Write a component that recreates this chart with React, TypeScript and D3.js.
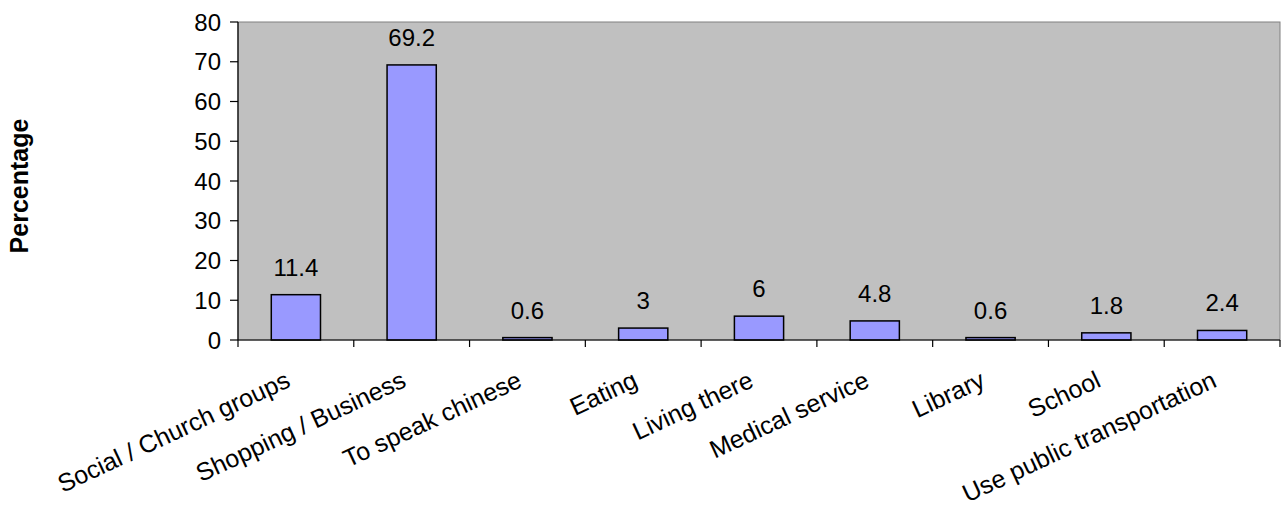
import React from "react";
import * as d3 from "d3";

const categories = [
  "Social / Church groups",
  "Shopping / Business",
  "To speak chinese",
  "Eating",
  "Living there",
  "Medical service",
  "Library",
  "School",
  "Use public transportation",
];
const values = [11.4, 69.2, 0.6, 3, 6, 4.8, 0.6, 1.8, 2.4];
const valueLabels = ["11.4", "69.2", "0.6", "3", "6", "4.8", "0.6", "1.8", "2.4"];
const yTicks = [0, 10, 20, 30, 40, 50, 60, 70, 80];
const yTitle = "Percentage";

const W = 1281;
const H = 508;
const plot = { left: 238, right: 1280, top: 22, bottom: 340 };
const FONT = "'Liberation Sans', Arial, sans-serif";

export default function App() {
  const x = d3
    .scaleBand<string>()
    .domain(categories)
    .range([plot.left, plot.right])
    .paddingInner(0)
    .paddingOuter(0);
  const y = d3.scaleLinear().domain([0, 80]).range([plot.bottom, plot.top]);
  const bw = x.bandwidth() * 0.425;
  const boundaries = categories.map((c) => x(c) as number).concat([plot.right]);

  return (
    <svg
      width={W}
      height={H}
      style={{ position: "fixed", left: 0, top: 0, background: "#fff" }}
      fontFamily={FONT}
    >
      <rect
        x={plot.left}
        y={plot.top}
        width={plot.right - plot.left}
        height={plot.bottom - plot.top}
        fill="#C0C0C0"
        stroke="#808080"
        strokeWidth={1}
      />
      {categories.map((c, i) => {
        const cx = (x(c) as number) + x.bandwidth() / 2;
        const top = y(values[i]);
        return (
          <g key={c}>
            <rect
              x={cx - bw / 2}
              y={top}
              width={bw}
              height={plot.bottom - top}
              fill="#9999FF"
              stroke="#000"
              strokeWidth={1.5}
            />
            <text
              x={cx}
              y={top - 19}
              textAnchor="middle"
              fontSize={24}
              fill="#000"
            >
              {valueLabels[i]}
            </text>
            <text
              transform={`translate(${cx - 4},${386}) rotate(-25)`}
              textAnchor="end"
              fontSize={25}
              fill="#000"
            >
              {c}
            </text>
          </g>
        );
      })}
      {/* y axis */}
      <line x1={plot.left} x2={plot.left} y1={plot.top} y2={plot.bottom} stroke="#000" strokeWidth={1.2} />
      {yTicks.map((t) => (
        <g key={t}>
          <line x1={plot.left - 8} x2={plot.left} y1={y(t)} y2={y(t)} stroke="#000" strokeWidth={1.2} />
          <text x={221} y={y(t)} dy="0.36em" textAnchor="end" fontSize={24} fill="#000">
            {t}
          </text>
        </g>
      ))}
      {/* x axis */}
      <line x1={plot.left} x2={plot.right} y1={plot.bottom} y2={plot.bottom} stroke="#000" strokeWidth={1.2} />
      {boundaries.map((bx, i) => (
        <line key={i} x1={bx} x2={bx} y1={plot.bottom} y2={plot.bottom + 7} stroke="#000" strokeWidth={1.2} />
      ))}
      <text
        transform={`translate(28,186) rotate(-90)`}
        textAnchor="middle"
        fontSize={25}
        fontWeight="bold"
        fill="#000"
      >
        {yTitle}
      </text>
    </svg>
  );
}
